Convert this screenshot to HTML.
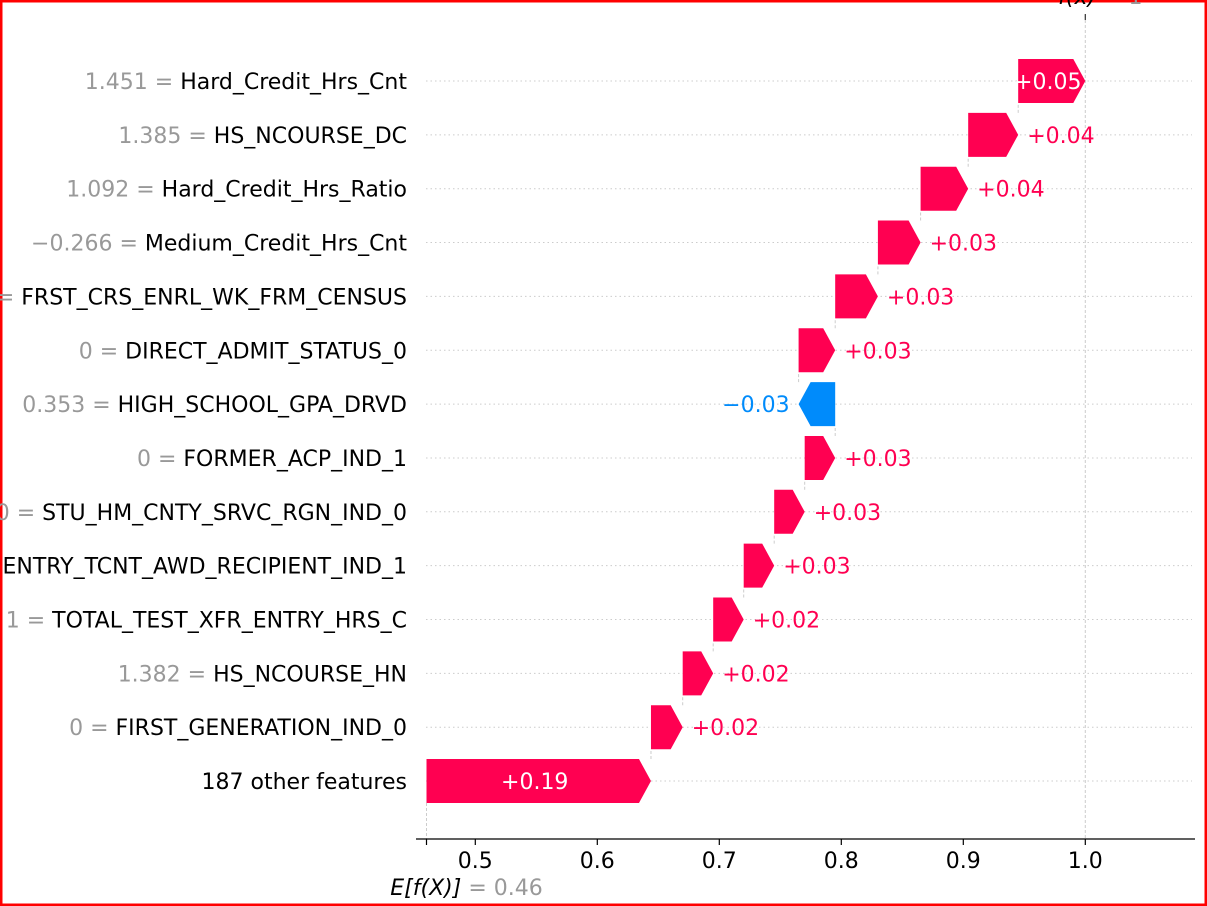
<!DOCTYPE html>
<html><head><meta charset="utf-8">
<style>
html,body{margin:0;padding:0;background:#fff;}
#wrap{position:relative;width:1207px;height:906px;overflow:hidden;}
svg{position:absolute;left:0;top:0;}
text{font-family:"DejaVu Sans","Liberation Sans",sans-serif;}
</style></head>
<body>
<div id="wrap">
<svg id="chart" width="1207" height="906"></svg>
</div>
<script>
// data, listed from top row to bottom row
const featureNames = ["Hard_Credit_Hrs_Cnt","HS_NCOURSE_DC","Hard_Credit_Hrs_Ratio","Medium_Credit_Hrs_Cnt","FRST_CRS_ENRL_WK_FRM_CENSUS","DIRECT_ADMIT_STATUS_0","HIGH_SCHOOL_GPA_DRVD","FORMER_ACP_IND_1","STU_HM_CNTY_SRVC_RGN_IND_0","ENTRY_TCNT_AWD_RECIPIENT_IND_1","TOTAL_TEST_XFR_ENTRY_HRS_C","HS_NCOURSE_HN","FIRST_GENERATION_IND_0","187 other features"];
const featureValues = ["1.451","1.385","1.092","\u22120.266","0","0","0.353","0","0","0","1","1.382","0",""];
const shapValues = [0.055,0.041,0.039,0.035,0.035,0.030,-0.030,0.025,0.025,0.025,0.025,0.025,0.026,0.184];
const shapLabels = ["+0.05","+0.04","+0.04","+0.03","+0.03","+0.03","\u22120.03","+0.03","+0.03","+0.03","+0.02","+0.02","+0.02","+0.19"];
const baseValue = 0.46;
const fxLabel = "1";
const baseLabel = "0.46";
const xTicks = [0.5,0.6,0.7,0.8,0.9,1.0];
const xTickLabels = ["0.5","0.6","0.7","0.8","0.9","1.0"];

const NS="http://www.w3.org/2000/svg";
const svg=document.getElementById('chart');
const xs=v=>475.3+(v-0.5)*1220;
const rowY=i=>81+i*53.85;
const BH=44, RED="#ff0051", BLUE="#008bfb", FS=22;
function mk(tag,attrs,parent){const e=document.createElementNS(NS,tag);for(const k in attrs)e.setAttribute(k,attrs[k]);(parent||svg).appendChild(e);return e;}

let fr=mk('rect',{x:1,y:1,width:1205,height:904,fill:'none',stroke:'#ff0000','stroke-width':3});



const n=featureNames.length;
const starts=new Array(n);let cum=baseValue;
for(let i=n-1;i>=0;i--){starts[i]=cum;cum+=shapValues[i];}
const finalValue=cum;

for(let i=0;i<n;i++){
  const g=mk('line',{x1:426,x2:1192,y1:rowY(i),y2:rowY(i),stroke:'#ccc','stroke-width':1,'stroke-dasharray':'1.5,3'});
  
  
}
let bl=mk('line',{x1:xs(baseValue),x2:xs(baseValue),y1:rowY(n-1)+BH/2,y2:839,stroke:'#ccc','stroke-dasharray':'3,2'});


let fl=mk('line',{x1:xs(finalValue),x2:xs(finalValue),y1:15,y2:839,stroke:'#ccc','stroke-dasharray':'3,2'});


let ft=mk('line',{x1:xs(finalValue),x2:xs(finalValue),y1:14,y2:20,stroke:'#333','stroke-width':1.2});



for(let i=0;i<n;i++){
  const s=starts[i], e=s+shapValues[i], y=rowY(i);
  if(i>0){
    const c=mk('line',{x1:xs(e),x2:xs(e),y1:y-BH/2,y2:rowY(i-1)+BH/2,stroke:'#ccc','stroke-dasharray':'3,2'});
    
    
  }
  const pos=shapValues[i]>=0, x0=xs(s), x1=xs(e), w=Math.abs(x1-x0), head=Math.min(12,w*0.6);
  let pts;
  if(pos) pts=[[x0,y-BH/2],[x1-head,y-BH/2],[x1,y],[x1-head,y+BH/2],[x0,y+BH/2]];
  else pts=[[x0,y-BH/2],[x1+head,y-BH/2],[x1,y],[x1+head,y+BH/2],[x0,y+BH/2]];
  const b=mk('polygon',{points:pts.map(p=>p.join(',')).join(' '),fill:pos?RED:BLUE});
  
  
  const inside = w>60;
  let t;
  if(inside){
    t=mk('text',{x:(x0+x1)/2-(pos?4:-4),y:y+8,'font-size':FS,fill:'#fff','text-anchor':'middle'});
  } else if(pos){
    t=mk('text',{x:x1+9,y:y+8,'font-size':FS,fill:RED});
  } else {
    t=mk('text',{x:x1-9,y:y+8,'font-size':FS,fill:BLUE,'text-anchor':'end'});
  }
  t.textContent=shapLabels[i];
  
  
  const lb=mk('text',{x:407,y:y+8,'font-size':FS,'text-anchor':'end',fill:'#000'});
  
  
  if(featureValues[i]!==""){
    const ts=mk('tspan',{fill:'#999'},lb);ts.textContent=featureValues[i]+" = ";
  }
  const tn=mk('tspan',{fill:'#000'},lb);tn.textContent=featureNames[i];
}

let ax=mk('line',{x1:416,x2:1195,y1:839,y2:839,stroke:'#000','stroke-width':1.3});


let bt=mk('line',{x1:xs(baseValue),x2:xs(baseValue),y1:839,y2:845,stroke:'#000','stroke-width':1.2});


xTicks.forEach((v,k)=>{
  const tk=mk('line',{x1:xs(v),x2:xs(v),y1:839,y2:845,stroke:'#000','stroke-width':1.2});
  
  
  const tl=mk('text',{x:xs(v),y:868,'font-size':FS,'text-anchor':'middle',fill:'#000'});
  tl.textContent=xTickLabels[k];
  
  
});
const el=mk('text',{x:xs(baseValue)+40,y:895,'font-size':FS,'text-anchor':'middle'});


const e1=mk('tspan',{fill:'#000','font-style':'italic'},el);e1.textContent="E[f(X)]";
const e2=mk('tspan',{fill:'#999'},el);e2.textContent=" = "+baseLabel;
const fxl=mk('text',{x:xs(finalValue)+15,y:4,'font-size':FS,'text-anchor':'middle'});


const f1=mk('tspan',{fill:'#000','font-style':'italic'},fxl);f1.textContent="f(x)";
const f2=mk('tspan',{fill:'#999'},fxl);f2.textContent=" = "+fxLabel;
</script>
</body></html>
